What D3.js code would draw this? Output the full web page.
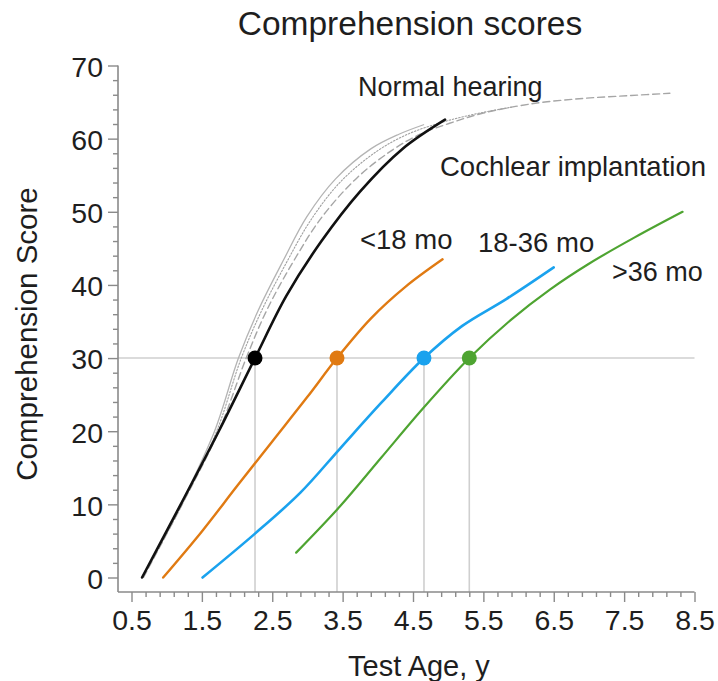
<!DOCTYPE html>
<html>
<head>
<meta charset="utf-8">
<script src="https://cdn.jsdelivr.net/npm/d3@7"></script>
<style>
  html, body { margin: 0; padding: 0; background: #fff; }
  svg { display: block; }
  text { font-family: "Liberation Sans", Arial, Helvetica, sans-serif; fill: #1e1e1e; }
</style>
</head>
<body>
<svg id="chart" width="718" height="681"></svg>
<script>
// Comprehension score versus test age: normal-hearing reference curves and
// three cochlear-implant groups split by age at implantation.

const xTickLabels = ["0.5", "1.5", "2.5", "3.5", "4.5", "5.5", "6.5", "7.5", "8.5"];
const yTickLabels = ["0", "10", "20", "30", "40", "50", "60", "70"];

// [test age (y), score]
const normalSolid = [[0.65, 0], [1.2, 10], [1.68, 20], [2.02, 30], [2.3, 36.5], [2.66, 43.4],
  [2.99, 49.3], [3.4, 54.5], [3.9, 58.6], [4.3, 60.6], [4.65, 61.9]];
const normalDotted = [[0.66, 0], [1.22, 10], [1.71, 20], [2.06, 30], [2.35, 36.5], [2.71, 43.2],
  [3.05, 48.9], [3.46, 54.0], [3.96, 58.1], [4.4, 60.5], [4.9, 62.2], [5.4, 63.4], [5.9, 64.3]];
const normalDashed = [[0.67, 0], [1.22, 10], [1.74, 20], [2.13, 30], [2.42, 36.5], [2.8, 43.2],
  [3.2, 49.2], [3.7, 54.6], [4.2, 58.4], [4.6, 60.6], [5.02, 62.1], [5.5, 63.5],
  [6.21, 64.8], [6.92, 65.5], [7.6, 65.9], [8.15, 66.2]];
const implantAll = [[0.65, 0], [1.2, 10], [1.74, 20], [2.255, 30], [2.7, 38.5], [3.2, 46.0],
  [3.75, 52.8], [4.35, 58.6], [4.955, 62.6]];
const under18 = [[0.95, 0], [1.5, 6.3], [2.0, 12.5], [2.5, 18.6], [3.0, 24.7], [3.42, 30],
  [3.9, 35.4], [4.4, 39.8], [4.92, 43.5]];
const from18to36 = [[1.51, 0], [2.255, 6.0], [2.9, 11.6], [3.46, 17.6], [4.06, 24.0],
  [4.656, 30], [5.2, 34.4], [5.83, 38.1], [6.5, 42.4]];
const over36 = [[2.84, 3.4], [3.46, 9.7], [4.05, 16.4], [4.65, 23.2], [5.3, 30], [5.9, 35.3],
  [6.45, 39.4], [7.0, 42.9], [7.65, 46.5], [8.33, 50.0]];

// age at which each curve reaches a score of 30
const thresholdScore = 30;
const thresholdAges = [2.255, 3.42, 4.656, 5.3];
const thresholdColors = ["#000000", "#e07a12", "#1aa2ee", "#4ea431"];

const svg = d3.select("#chart");

const x = d3.scaleLinear().domain([0.5, 8.5]).range([131.5, 694.5]);
const y = d3.scaleLinear().domain([0, 70]).range([577.5, 65.5]);
const axisX = 118;   // position of the vertical axis line
const axisY = 592;   // position of the horizontal axis line
const axisColor = "#8a8a8a";

// reference lines at score 30 and down from each crossing
svg.append("line")
  .attr("x1", axisX).attr("x2", x(8.5))
  .attr("y1", y(thresholdScore)).attr("y2", y(thresholdScore))
  .attr("stroke", "#cfcfcf").attr("stroke-width", 1.6);
svg.selectAll(".drop").data(thresholdAges).join("line")
  .attr("x1", d => x(d)).attr("x2", d => x(d))
  .attr("y1", y(thresholdScore)).attr("y2", axisY)
  .attr("stroke", "#cfcfcf").attr("stroke-width", 1.6);

// axes
const yMajor = d3.range(0, 71, 10);
const yMinor = d3.range(0, 71, 2).filter(v => v % 10 !== 0);
const xMajor = d3.range(0.5, 8.51, 1);
const xMinor = d3.range(0, 41).map(i => 0.5 + i * 0.2).filter(v => Math.abs((v - 0.5) % 1) > 0.05 && Math.abs((v - 0.5) % 1) < 0.95);

const gy = svg.append("g").attr("transform", `translate(${axisX},0)`);
gy.call(d3.axisLeft(y).tickValues(yMajor).tickSize(10).tickFormat((d, i) => yTickLabels[i]).tickPadding(5));
gy.append("g").call(d3.axisLeft(y).tickValues(yMinor).tickSize(5).tickFormat(""));
gy.selectAll(".domain").remove();
gy.append("line").attr("x1", 0).attr("x2", 0).attr("y1", y(70)).attr("y2", axisY)
  .attr("stroke", axisColor).attr("stroke-width", 1.6);

const gx = svg.append("g").attr("transform", `translate(0,${axisY})`);
gx.call(d3.axisBottom(x).tickValues(xMajor).tickSize(10).tickFormat((d, i) => xTickLabels[i]).tickPadding(8));
gx.append("g").call(d3.axisBottom(x).tickValues(xMinor).tickSize(5).tickFormat(""));
gx.selectAll(".domain").remove();
gx.append("line").attr("x1", axisX).attr("x2", x(8.5)).attr("y1", 0).attr("y2", 0)
  .attr("stroke", axisColor).attr("stroke-width", 1.6);

svg.selectAll(".tick line").attr("stroke", axisColor).attr("stroke-width", 1.4);
svg.selectAll(".tick text")
  .style("font-family", '"Liberation Sans", Arial, Helvetica, sans-serif')
  .style("font-size", "28.5px").attr("fill", "#1e1e1e");
gy.selectAll(".tick text").attr("dy", "0.38em");

// curves
const line = d3.line().x(d => x(d[0])).y(d => y(d[1])).curve(d3.curveCatmullRom.alpha(0.5));
const curves = [
  { data: normalSolid, color: "#b4b4b4", width: 1.3, dash: null },
  { data: normalDotted, color: "#a0a0a0", width: 1.1, dash: "1.5,1.8" },
  { data: normalDashed, color: "#a6a6a6", width: 1.4, dash: "7,4" },
  { data: implantAll, color: "#111111", width: 2.6, dash: null },
  { data: under18, color: thresholdColors[1], width: 2.4, dash: null },
  { data: from18to36, color: thresholdColors[2], width: 2.6, dash: null },
  { data: over36, color: thresholdColors[3], width: 2.2, dash: null }
];
svg.selectAll(".curve").data(curves).join("path")
  .attr("class", "curve")
  .attr("d", d => line(d.data))
  .attr("fill", "none")
  .attr("stroke", d => d.color)
  .attr("stroke-width", d => d.width)
  .attr("stroke-dasharray", d => d.dash)
  .attr("stroke-linecap", "round");

// crossing markers
svg.selectAll(".dot").data(thresholdAges).join("circle")
  .attr("cx", d => x(d)).attr("cy", y(thresholdScore)).attr("r", 7.5)
  .attr("fill", (d, i) => thresholdColors[i]);

// text
svg.append("text").attr("x", 410).attr("y", 35).attr("text-anchor", "middle")
  .style("font-size", "33.5px").text("Comprehension scores");
svg.append("text").attr("x", 348).attr("y", 676)
  .style("font-size", "29px").text("Test Age, y");
svg.append("text").attr("transform", "translate(37,334) rotate(-90)").attr("text-anchor", "middle")
  .style("font-size", "29.5px").text("Comprehension Score");

svg.append("text").attr("x", 358).attr("y", 96).style("font-size", "27px").text("Normal hearing");
svg.append("text").attr("x", 440).attr("y", 176).style("font-size", "27.5px").text("Cochlear implantation");
svg.append("text").attr("x", 360).attr("y", 249).style("font-size", "27.5px")
  .attr("fill", thresholdColors[1]).text("<18 mo");
svg.append("text").attr("x", 478).attr("y", 252).style("font-size", "27.5px")
  .attr("fill", thresholdColors[2]).text("18-36 mo");
svg.append("text").attr("x", 612).attr("y", 281).style("font-size", "27px")
  .attr("fill", thresholdColors[3]).text(">36 mo");
</script>
</body>
</html>
